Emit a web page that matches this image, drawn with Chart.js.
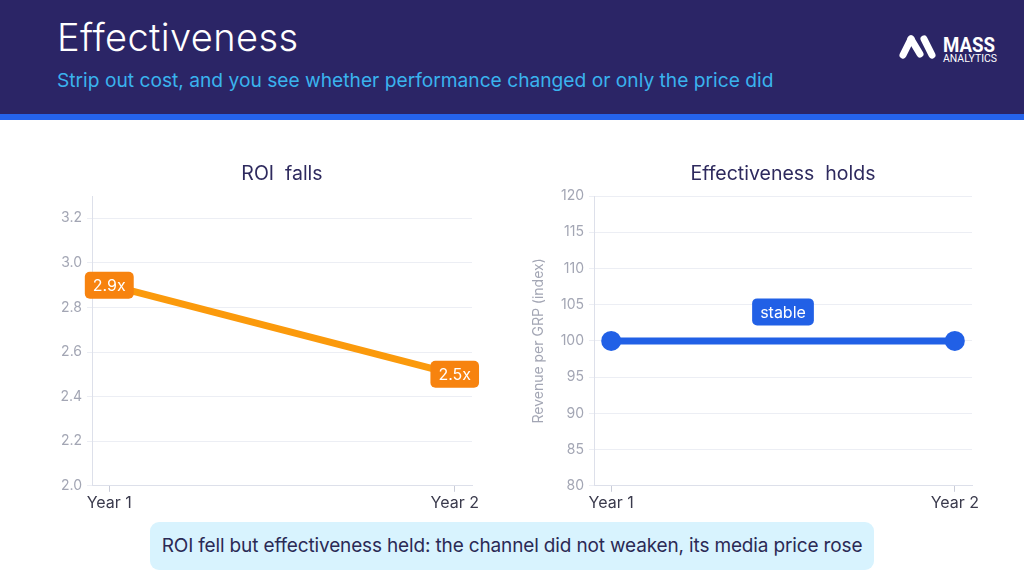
<!DOCTYPE html>
<html>
<head>
<meta charset="utf-8">
<script src="https://cdn.jsdelivr.net/npm/chart.js@4.4.1/dist/chart.umd.min.js"></script>
<style>
  html, body { margin: 0; padding: 0; }
  body { width: 1024px; height: 576px; position: relative; overflow: hidden; background: #fff; font-family: Inter, "Noto Sans", sans-serif; }
  .header { position: absolute; left: 0; top: 0; width: 1024px; height: 114px; background: #2b2566; }
  .stripe { position: absolute; left: 0; top: 114px; width: 1024px; height: 6px; background: #2563eb; }
  .title { position: absolute; left: 57px; top: 14px; color: #fff; font-size: 38px; font-weight: 300; letter-spacing: 0.4px; }
  .subtitle { position: absolute; left: 57px; top: 68px; color: #3ab3ee; font-size: 19.2px; font-weight: 400; }
  .logo { position: absolute; left: 896px; top: 30px; }
  .box { position: absolute; }
  .callout { position: absolute; left: 150px; top: 522px; width: 724px; height: 48px; background: #d8f3fe; border-radius: 9px;
             color: #2b2a55; font-size: 19px; line-height: 48px; text-align: center; letter-spacing: -0.15px; }
</style>
</head>
<body>
<div class="header"></div>
<div class="stripe"></div>
<div class="title">Effectiveness</div>
<div class="subtitle">Strip out cost, and you see whether performance changed or only the price did</div>
<svg class="logo" width="110" height="36" viewBox="0 0 110 36">
  <g stroke="#fff" stroke-width="7" stroke-linecap="round" fill="none">
    <line x1="7" y1="25" x2="15" y2="9"/>
    <line x1="15" y1="9" x2="24" y2="24"/>
    <line x1="28" y1="9" x2="36" y2="25"/>
  </g>
  <text x="47" y="22" fill="#fff" font-family="Roboto, sans-serif" font-weight="700" font-size="20" textLength="52" lengthAdjust="spacingAndGlyphs">MASS</text>
  <text x="47" y="32" fill="#fff" font-family="Roboto, sans-serif" font-weight="400" font-size="10" textLength="54" lengthAdjust="spacingAndGlyphs">ANALYTICS</text>
</svg>

<div class="box" style="left:40px;top:150px;width:450px;height:365px;"><canvas id="roiChart"></canvas></div>
<div class="box" style="left:530px;top:150px;width:470px;height:365px;"><canvas id="effChart"></canvas></div>

<div class="callout">ROI fell but effectiveness held: the channel did not weaken, its media price rose</div>

<script>
// data
const years = ['Year 1', 'Year 2'];
const roiValues = [2.9, 2.5];
const roiLabels = ['2.9x', '2.5x'];
const effValues = [100, 100];
const effNote = 'stable';
const roiTitle = 'ROI  falls';
const effTitle = 'Effectiveness  holds';
const effAxisTitle = 'Revenue per GRP (index)';

const FONT = 'Inter, "Noto Sans", sans-serif';

function roundBox(ctx, cx, cy, text, fill, font) {
  ctx.save();
  ctx.font = font;
  const w = ctx.measureText(text).width + 16;
  const h = 27;
  ctx.fillStyle = fill;
  ctx.beginPath();
  ctx.roundRect(cx - w / 2, cy - h / 2, w, h, 5);
  ctx.fill();
  ctx.fillStyle = '#fff';
  ctx.textAlign = 'center';
  ctx.textBaseline = 'middle';
  ctx.fillText(text, cx, cy + 1);
  ctx.restore();
}

// title centred on the plot area
const areaTitle = {
  id: 'areaTitle',
  afterDraw(chart, args, opts) {
    const { ctx, chartArea } = chart;
    ctx.save();
    ctx.font = '400 19.5px ' + FONT;
    ctx.fillStyle = '#2e2a5e';
    ctx.textAlign = 'center';
    ctx.textBaseline = 'middle';
    ctx.fillText(opts.text, (chartArea.left + chartArea.right) / 2, 24);
    ctx.restore();
  }
};

const pointTags = {
  id: 'pointTags',
  afterDatasetsDraw(chart, args, opts) {
    if (!opts.labels) return;
    const meta = chart.getDatasetMeta(0);
    meta.data.forEach((pt, i) => {
      roundBox(chart.ctx, pt.x, pt.y, opts.labels[i], opts.color, '400 16px ' + FONT);
    });
  }
};

const midNote = {
  id: 'midNote',
  afterDatasetsDraw(chart, args, opts) {
    if (!opts.text) return;
    const x = chart.scales.x.getPixelForValue(0.5);
    const y = chart.scales.y.getPixelForValue(opts.value) - 29;
    roundBox(chart.ctx, x, y, opts.text, opts.color, '400 16px ' + FONT);
  }
};

function xAxis() {
  return {
    type: 'linear',
    min: -0.05,
    max: 1.05,
    afterBuildTicks: (scale) => { scale.ticks = [{ value: 0 }, { value: 1 }]; },
    ticks: {
      callback: (v) => years[Math.round(v)],
      color: '#3a3a4c',
      font: { family: FONT, size: 16 },
      padding: 2,
      maxRotation: 0
    },
    grid: { drawOnChartArea: false, drawTicks: true, tickLength: 6, color: '#c9ccd8' },
    border: { color: '#dde0ea' }
  };
}

new Chart(document.getElementById('roiChart'), {
  type: 'line',
  data: {
    datasets: [{
      data: roiValues.map((v, i) => ({ x: i, y: v })),
      borderColor: '#fb9a0c',
      borderWidth: 7,
      pointRadius: 0,
      tension: 0
    }]
  },
  options: {
    responsive: true,
    maintainAspectRatio: false,
    animation: false,
    layout: { padding: { top: 46, right: 18, left: 0, bottom: 0 } },
    plugins: {
      legend: { display: false },
      tooltip: { enabled: false },
      areaTitle: { text: roiTitle },
      pointTags: { labels: roiLabels, color: '#f7830f' }
    },
    scales: {
      x: xAxis(),
      y: {
        min: 2.0,
        max: 3.3,
        afterFit: (scale) => { scale.width = 52; },
        ticks: {
          stepSize: 0.2,
          includeBounds: false,
          callback: (v) => v.toFixed(1),
          color: '#a3a6b4',
          font: { family: FONT, size: 14 },
          padding: 5
        },
        grid: { color: '#eceef4', tickLength: 5 },
        border: { color: '#dde0ea' }
      }
    }
  },
  plugins: [areaTitle, pointTags]
});

new Chart(document.getElementById('effChart'), {
  type: 'line',
  data: {
    datasets: [{
      data: effValues.map((v, i) => ({ x: i, y: v })),
      borderColor: '#2160e6',
      backgroundColor: '#2160e6',
      borderWidth: 7,
      pointRadius: 10,
      pointBorderWidth: 0,
      tension: 0
    }]
  },
  options: {
    responsive: true,
    maintainAspectRatio: false,
    animation: false,
    layout: { padding: { top: 46, right: 28, left: 0, bottom: 0 } },
    plugins: {
      legend: { display: false },
      tooltip: { enabled: false },
      areaTitle: { text: effTitle },
      midNote: { text: effNote, value: effValues[0], color: '#2160e6' }
    },
    scales: {
      x: xAxis(),
      y: {
        min: 80,
        max: 120,
        afterFit: (scale) => { scale.width = 64; },
        title: {
          display: true,
          text: effAxisTitle,
          color: '#a3a6b4',
          font: { family: FONT, size: 14 },
          padding: 0
        },
        ticks: {
          stepSize: 5,
          color: '#a3a6b4',
          font: { family: FONT, size: 14 },
          padding: 5
        },
        grid: { color: '#eceef4', tickLength: 5 },
        border: { color: '#dde0ea' }
      }
    }
  },
  plugins: [areaTitle, midNote]
});
</script>
</body>
</html>
